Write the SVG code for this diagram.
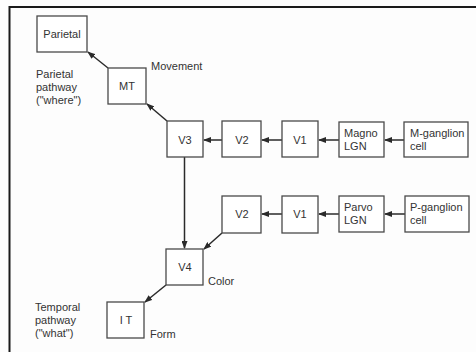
<svg xmlns="http://www.w3.org/2000/svg" width="476" height="352" viewBox="0 0 476 352">
<defs>
<marker id="ah" markerWidth="8" markerHeight="6" refX="7" refY="3" orient="auto" markerUnits="userSpaceOnUse">
<path d="M0,0 L8,3 L0,6 z" fill="#2a2a2a"/>
</marker>
<style>
.box{fill:#fff;stroke:#4a4a4a;stroke-width:1.3}
.t{font-family:"Liberation Sans",Arial,sans-serif;font-size:11px;fill:#333}
.c{text-anchor:middle}
.ln{stroke:#2a2a2a;stroke-width:1.5;fill:none;marker-end:url(#ah)}
</style>
</defs>
<rect x="0" y="0" width="476" height="352" fill="#fdfdfd"/>
<path d="M476,7 H9.5 V352" fill="none" stroke="#1a1a1a" stroke-width="2"/>
<g id="connectors">
<line class="ln" x1="167" y1="121" x2="147" y2="104"/>
<line class="ln" x1="108" y1="68" x2="88" y2="52"/>
<line class="ln" x1="222" y1="140" x2="204" y2="140"/>
<line class="ln" x1="282" y1="140" x2="262" y2="140"/>
<line class="ln" x1="339" y1="140" x2="319" y2="140"/>
<line class="ln" x1="404" y1="140" x2="385" y2="140"/>
<line class="ln" x1="184.5" y1="157" x2="184.5" y2="248"/>
<line class="ln" x1="222" y1="233" x2="204" y2="249"/>
<line class="ln" x1="282" y1="214" x2="262" y2="214"/>
<line class="ln" x1="339" y1="214" x2="319" y2="214"/>
<line class="ln" x1="405" y1="214" x2="385" y2="214"/>
<line class="ln" x1="166" y1="285" x2="145" y2="302"/>
</g>
<g id="parietal"><rect class="box" x="37" y="16" width="50" height="36"/><text class="t c" x="62" y="38">Parietal</text></g>
<g id="mt"><rect class="box" x="108" y="68" width="38" height="36"/><text class="t c" x="127" y="90">MT</text></g>
<g id="v3"><rect class="box" x="167" y="121" width="36" height="36"/><text class="t c" x="185" y="144">V3</text></g>
<g id="v2-top"><rect class="box" x="222" y="121" width="39" height="36"/><text class="t c" x="242" y="144">V2</text></g>
<g id="v1-top"><rect class="box" x="282" y="121" width="36" height="36"/><text class="t c" x="300" y="144">V1</text></g>
<g id="magno-lgn"><rect class="box" x="339" y="122" width="45" height="35"/><text class="t" x="344" y="137">Magno</text><text class="t" x="344" y="150">LGN</text></g>
<g id="m-ganglion"><rect class="box" x="404" y="122" width="64" height="35"/><text class="t" x="410" y="137">M-ganglion</text><text class="t" x="410" y="150">cell</text></g>
<g id="v2-bottom"><rect class="box" x="222" y="196" width="39" height="37"/><text class="t c" x="242" y="218">V2</text></g>
<g id="v1-bottom"><rect class="box" x="282" y="196" width="36" height="37"/><text class="t c" x="300" y="218">V1</text></g>
<g id="parvo-lgn"><rect class="box" x="339" y="196" width="45" height="36"/><text class="t" x="344" y="211">Parvo</text><text class="t" x="344" y="224">LGN</text></g>
<g id="p-ganglion"><rect class="box" x="405" y="196" width="64" height="36"/><text class="t" x="410" y="211">P-ganglion</text><text class="t" x="410" y="224">cell</text></g>
<g id="v4"><rect class="box" x="166" y="249" width="37" height="36"/><text class="t c" x="185" y="271">V4</text></g>
<g id="it"><rect class="box" x="107" y="302" width="37" height="36"/><text class="t c" x="126" y="324">I T</text></g>
<g id="labels">
<text class="t" x="151" y="70">Movement</text>
<text class="t" x="36" y="78">Parietal</text>
<text class="t" x="36" y="91">pathway</text>
<text class="t" x="36" y="104">("where")</text>
<text class="t" x="208" y="285">Color</text>
<text class="t" x="150" y="338">Form</text>
<text class="t" x="35" y="311">Temporal</text>
<text class="t" x="35" y="324">pathway</text>
<text class="t" x="35" y="337">("what")</text>
</g>
</svg>
